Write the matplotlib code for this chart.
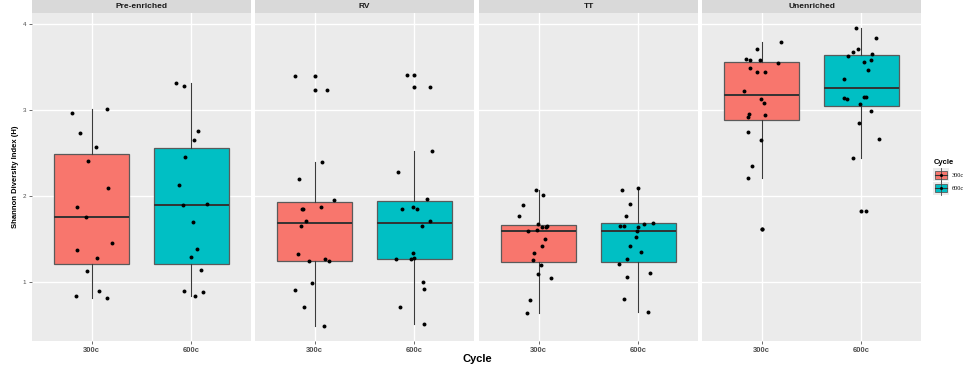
import numpy as np
import matplotlib.pyplot as plt
from matplotlib.patches import Rectangle

plt.rcParams['font.family'] = ['Liberation Sans', 'DejaVu Sans']

facets = ['Pre-enriched', 'RV', 'TT', 'Unenriched']
cycles = ['300c', '600c']
cycle_colors = ['#F8766D', '#00BFC4']

# Shannon index per sample, with the jitter offset of each dot
pre_300 = [2.965, 3.015, 2.734, 2.571, 2.405, 2.097, 1.873, 1.764, 1.459, 1.378, 1.286, 1.135, 0.838, 0.896, 0.822]
pre_300_jit = [-0.194, 0.154, -0.114, 0.040, -0.034, 0.161, -0.147, -0.060, 0.201, -0.147, 0.054, -0.047, -0.161, 0.074, 0.154]
pre_600 = [3.313, 3.282, 2.753, 2.656, 2.459, 2.127, 1.896, 1.907, 1.695, 1.386, 1.293, 1.143, 0.903, 0.846, 0.888]
pre_600_jit = [-0.157, -0.070, 0.067, 0.030, -0.060, -0.124, -0.087, 0.157, 0.013, 0.060, 0.0, 0.101, -0.077, 0.040, 0.114]

rv_300 = [3.390, 3.232, 2.398, 2.201, 1.950, 1.849, 1.849, 1.873, 1.714, 1.653, 1.332, 1.251, 1.266, 1.247, 0.992, 0.915, 0.714, 0.494]
rv_300_jit = [-0.194, 0.124, 0.070, -0.157, 0.198, -0.124, -0.117, 0.064, -0.090, -0.134, -0.164, -0.060, 0.104, 0.144, -0.023, -0.198, -0.107, 0.094]
rv_600 = [3.402, 3.270, 2.525, 2.278, 1.965, 1.846, 1.876, 1.846, 1.714, 1.653, 1.340, 1.266, 1.266, 1.282, 1.0, 0.923, 0.714, 0.514]
rv_600_jit = [-0.070, 0.154, 0.178, -0.164, 0.124, -0.124, -0.017, 0.027, 0.154, 0.080, -0.017, -0.188, -0.034, -0.007, 0.090, 0.097, -0.144, 0.094]

tt_300 = [2.077, 2.015, 1.896, 1.768, 1.676, 1.645, 1.645, 1.649, 1.610, 1.595, 1.502, 1.417, 1.340, 1.259, 1.205, 1.097, 1.054, 0.799, 0.649]
tt_300_jit = [-0.027, 0.047, -0.161, -0.194, -0.010, 0.034, 0.074, 0.087, -0.017, -0.111, 0.067, 0.037, -0.050, -0.057, 0.020, -0.003, 0.127, -0.090, -0.114]
tt_600 = [2.097, 2.073, 1.907, 1.772, 1.656, 1.656, 1.645, 1.680, 1.687, 1.595, 1.521, 1.425, 1.347, 1.266, 1.212, 1.104, 1.058, 0.811, 0.656]
tt_600_jit = [-0.003, -0.168, -0.080, -0.127, -0.181, -0.144, 0.0, 0.060, 0.151, -0.017, -0.023, -0.087, 0.023, -0.114, -0.198, 0.121, -0.111, -0.144, 0.101]

un_300 = [3.788, 3.703, 3.591, 3.575, 3.583, 3.541, 3.490, 3.440, 3.440, 3.220, 3.124, 3.077, 2.954, 2.923, 2.938, 2.749, 2.649, 2.351, 2.205, 1.618]
un_300_jit = [0.198, -0.047, -0.161, -0.117, -0.017, 0.168, -0.114, -0.050, 0.037, -0.174, -0.003, 0.027, -0.131, -0.134, 0.037, -0.141, -0.003, -0.094, -0.141, 0.0]
un_600 = [3.950, 3.838, 3.703, 3.668, 3.653, 3.625, 3.575, 3.552, 3.459, 3.359, 3.139, 3.124, 3.151, 3.147, 3.069, 2.988, 2.849, 2.664, 2.444, 1.830]
un_600_jit = [-0.057, 0.147, -0.037, -0.084, 0.107, -0.137, 0.094, 0.027, 0.067, -0.174, -0.174, -0.141, 0.030, 0.044, -0.010, 0.094, -0.023, 0.178, -0.087, 0.044]

data = {
    'Pre-enriched': [(pre_300, pre_300_jit), (pre_600, pre_600_jit)],
    'RV': [(rv_300, rv_300_jit), (rv_600, rv_600_jit)],
    'TT': [(tt_300, tt_300_jit), (tt_600, tt_600_jit)],
    'Unenriched': [(un_300, un_300_jit), (un_600, un_600_jit)],
}

W, H = 972, 367
fig = plt.figure(figsize=(W / 100, H / 100), dpi=100)

panel_left = [32, 255, 479, 702]
panel_w = 219
panel_top, panel_bottom = 13, 341

for k, facet in enumerate(facets):
    x0 = panel_left[k]
    ax = fig.add_axes([x0 / W, 1 - panel_bottom / H, panel_w / W, (panel_bottom - panel_top) / H])
    ax.set_facecolor('#EBEBEB')
    for s in ax.spines.values():
        s.set_visible(False)
    ax.set_axisbelow(True)
    ax.grid(True, color='white', linewidth=1.0)

    for i, (vals, jit) in enumerate(data[facet]):
        pos = i + 1
        ax.boxplot([vals], positions=[pos], widths=0.75, whis=1.5, patch_artist=True,
                   boxprops=dict(facecolor=cycle_colors[i], edgecolor='#5A5A5A', linewidth=0.9),
                   medianprops=dict(color='#333333', linewidth=1.4),
                   whiskerprops=dict(color='#3A3A3A', linewidth=0.8),
                   capprops=dict(linewidth=0),
                   flierprops=dict(marker='o', markerfacecolor='black', markeredgewidth=0,
                                   markersize=2.9), zorder=2)
        ax.scatter(pos + np.array(jit), vals, s=8, color='black', zorder=3, linewidths=0)

    ax.set_xlim(0.4, 2.6)
    ax.set_ylim(0.321, 4.123)
    ax.set_xticks([1, 2])
    ax.set_xticklabels(cycles, fontsize=5.5, fontweight='bold', color='#4D4D4D')
    ax.set_yticks([1, 2, 3, 4])
    ax.tick_params(axis='both', length=2, width=0.5, color='#333333', pad=2)
    if k == 0:
        ax.set_yticklabels(['1', '2', '3', '4'], fontsize=4.5, color='#4D4D4D')
        ax.set_ylabel('Shannon Diversity Index (H)', fontsize=5.5, fontweight='bold', labelpad=3)
    else:
        ax.tick_params(axis='y', left=False, labelleft=False)

    # facet strip
    sax = fig.add_axes([x0 / W, 1 - panel_top / H, panel_w / W, 13 / H])
    sax.set_facecolor('#D9D9D9')
    sax.set_xticks([])
    sax.set_yticks([])
    for s in sax.spines.values():
        s.set_visible(False)
    sax.text(0.5, 0.5, facet, ha='center', va='center', fontsize=6, fontweight='bold',
             color='#1A1A1A', transform=sax.transAxes)

fig.text(477 / W, 1 - 359 / H, 'Cycle', ha='center', va='center', fontsize=8, fontweight='bold')

# legend
fig.text(934 / W, 1 - 163 / H, 'Cycle', ha='left', va='center', fontsize=5.5, fontweight='bold')
for i, (lab, col) in enumerate(zip(cycles, cycle_colors)):
    yc = 175 + i * 13
    fig.patches.append(Rectangle((933 / W, 1 - (yc + 6.5) / H), 16 / W, 13 / H,
                                 transform=fig.transFigure, facecolor='#EBEBEB', edgecolor='none'))
    fig.patches.append(Rectangle((935 / W, 1 - (yc + 4) / H), 12 / W, 8 / H,
                                 transform=fig.transFigure, facecolor=col, edgecolor='#5A5A5A',
                                 linewidth=0.6))
    fig.lines.append(plt.Line2D([941 / W, 941 / W], [1 - (yc + 6.5) / H, 1 - (yc - 6.5) / H],
                                transform=fig.transFigure, color='#444444', linewidth=0.6))
    fig.lines.append(plt.Line2D([935 / W, 947 / W], [1 - yc / H, 1 - yc / H],
                                transform=fig.transFigure, color='#333333', linewidth=0.8))
    fig.lines.append(plt.Line2D([941 / W], [1 - yc / H], transform=fig.transFigure,
                                marker='o', color='black', markersize=2.2, markeredgewidth=0))
    fig.text(952 / W, 1 - yc / H, lab, ha='left', va='center', fontsize=4.5,
             family=['Liberation Serif', 'DejaVu Serif'])

fig.savefig('out.png', dpi=100)
